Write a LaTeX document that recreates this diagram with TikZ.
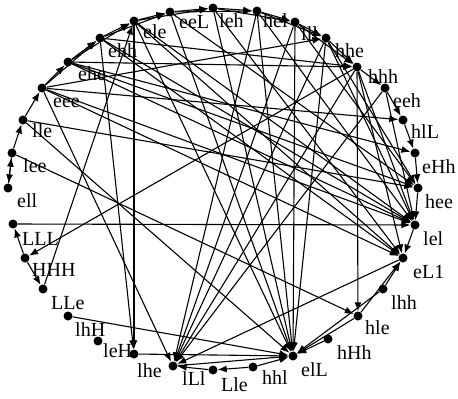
\documentclass[tikz,border=0pt]{standalone}
\usepackage{fontspec}
\setmainfont{Liberation Serif}
\usetikzlibrary{arrows.meta}
\tikzset{
 dot/.style={circle,fill=black,draw=none,inner sep=0pt,minimum size=9pt},
 lbl/.style={anchor=base west,inner sep=0pt,font=\fontsize{20}{22}\selectfont},
 edge/.style={line width=1.1pt,-{Latex[length=9pt,width=7pt]}}
}
\newcommand\gnode[4]{\node[dot] (#1) at (#2) {}; \node[lbl] (t#1) at (#4) {#3};}
\begin{document}
\begin{tikzpicture}[x=1pt,y=-1pt]
\fill[white] (0,0) rectangle (458,399);
\useasboundingbox (0,0) rectangle (458,399);
\gnode{ele}{134,21}{ele}{143,38}
\gnode{eeL}{170,12}{eeL}{179,28}
\gnode{leh}{213,8}{leh}{219,27}
\gnode{hel}{257,11}{hel}{263,27}
\gnode{lll}{295,22}{lll}{301,40}
\gnode{hhe}{326,38}{hhe}{335,57}
\gnode{hhh}{357,67}{hhh}{368,83}
\gnode{eeh}{385,88}{eeh}{393,107}
\gnode{hlL}{403,120}{hlL}{411,138}
\gnode{eHh}{415,153}{eHh}{422,173}
\gnode{hee}{418,188}{hee}{425,208}
\gnode{lel}{415,225}{lel}{423,245}
\gnode{eL1}{403,258}{eL1}{413,278}
\gnode{lhh}{383,289}{lhh}{391,309}
\gnode{hle}{358,316}{hle}{365,334}
\gnode{hHh}{328,339}{hHh}{337,359}
\gnode{elL}{293,356}{elL}{301,376}
\gnode{hhl}{253,367}{hhl}{262,384}
\gnode{Lle}{213,370}{Lle}{221,391}
\gnode{lLl}{173,366}{lLl}{182,385}
\gnode{lhe}{134,354}{lhe}{137,377}
\gnode{leH}{98,341}{leH}{103,357}
\gnode{lhH}{68,316}{lhH}{75,336}
\gnode{LLe}{43,289}{LLe}{51,309}
\gnode{HHH}{25,258}{HHH}{32,276}
\gnode{LLL}{13,224}{LLL}{22,245}
\gnode{ell}{8,188}{ell}{17,207}
\gnode{lee}{12,153}{lee}{23,172}
\gnode{lle}{23,120}{lle}{32,137}
\gnode{eee}{42,88}{eee}{53,107}
\gnode{ehe}{68,62}{ehe}{78,80}
\gnode{ehh}{100,38}{ehh}{108,57}
\foreach \a/\b in {
 lle/eee, eee/ehe, ehe/ehh, ehh/ele, ele/eeL, eeL/leh, leh/hel, hel/lll, lll/hhe, hhe/hhh,
 eee/ehh, ehe/ele, ehh/eeL, ele/leh, eeL/hel, leh/lll, hel/hhe, lll/hhh,
 hhh/eeh, eeh/hlL, hlL/eHh, eHh/hee, hee/lel, lel/eL1, lhh/eL1, hle/eL1,
 lee/lle, ell/lee, lee/ell, HHH/LLL, HHH/LLe,
 hhl/elL, hhl/Lle, Lle/lLl, lLl/elL, hHh/elL, hle/elL, lhh/elL,
 ehh/lel, ehe/hee, eee/lel, eee/eL1, ehh/eL1, ele/lel, ehe/lel, lle/hee, eeL/hee,
 leh/eL1, hel/lel, lll/hee, hhe/lel, hhh/lel, hhh/eL1, hhe/hee, eeh/lel, ele/eL1,
 eee/hlL, LLL/lel, ehe/hhh, ehh/hhh,
 lll/elL, hel/elL, leh/elL, eeL/elL, ele/elL, hhe/elL, lle/elL, lhH/elL, lhe/elL,
 hhh/lLl, hhe/lLl, lll/lLl, hel/lLl, eeh/lLl, eL1/lLl, eee/lLl,
 ele/lhe, ehh/lhe, LLe/ele, hhh/HHH, lee/hle, hhh/hle, ehe/eHh, eee/hhe}
 {\draw[edge] (\a) -- (\b);}
\end{tikzpicture}
\end{document}
